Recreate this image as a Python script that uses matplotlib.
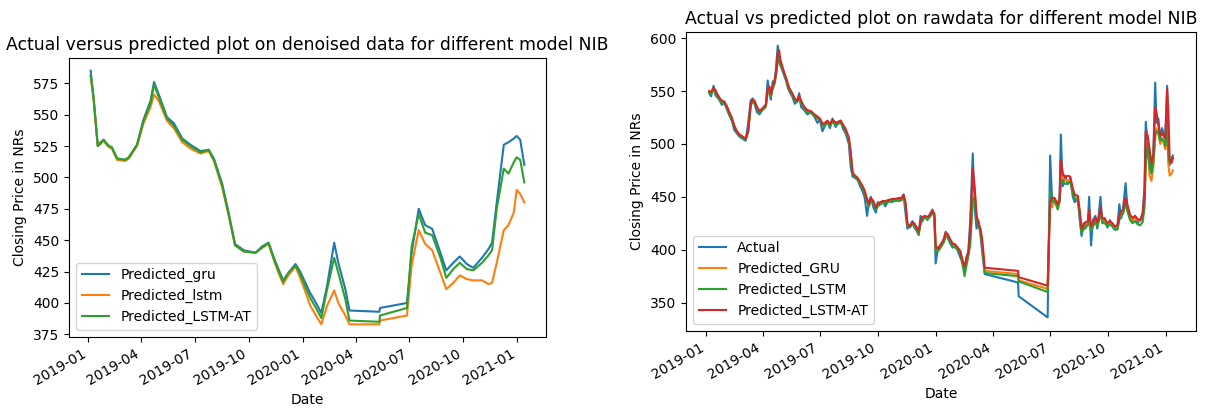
import pandas as pd
import matplotlib
matplotlib.use('Agg')
import matplotlib.pyplot as plt
import matplotlib.dates as mdates

# denoised data (left chart)
den_dates = ['2019-01-05', '2019-01-10', '2019-01-17', '2019-01-22', '2019-01-27', '2019-02-01',
             '2019-02-05', '2019-02-10', '2019-02-19', '2019-03-05', '2019-03-11', '2019-03-25',
             '2019-04-05', '2019-04-17', '2019-04-23', '2019-05-01', '2019-05-15', '2019-05-27',
             '2019-06-10', '2019-06-24', '2019-07-11', '2019-07-25', '2019-08-03', '2019-08-17',
             '2019-08-28', '2019-09-08', '2019-09-23', '2019-10-13', '2019-10-24', '2019-11-04',
             '2019-11-14', '2019-11-21', '2019-11-29', '2019-12-08', '2019-12-20', '2019-12-28',
             '2020-01-05', '2020-01-14', '2020-01-24', '2020-02-02', '2020-02-12', '2020-02-24',
             '2020-03-02', '2020-03-14', '2020-03-21', '2020-05-11', '2020-05-12', '2020-06-27',
             '2020-07-05', '2020-07-17', '2020-07-28', '2020-08-09', '2020-08-23', '2020-09-02',
             '2020-09-14', '2020-09-25', '2020-10-07', '2020-10-18', '2020-11-02', '2020-11-13',
             '2020-11-19', '2020-11-27', '2020-12-09', '2020-12-17', '2020-12-26', '2020-12-31',
             '2021-01-06', '2021-01-13']
den_gru = [585, 563, 526, 528, 530, 527, 525, 524, 515, 514, 516, 526,
           546, 561, 576, 566, 548, 543, 531, 526, 521, 522, 515, 495,
           472, 447, 442, 440, 445, 448, 435, 427, 418, 424, 431, 425,
           417, 408, 400, 392, 414, 448, 432, 411, 394, 393, 396, 400,
           440, 475, 462, 459, 440, 426, 432, 437, 431, 428, 436, 443,
           448, 480, 526, 528, 531, 533, 530, 510]
den_lstm = [581, 562, 525, 527, 529, 526, 524, 523, 514, 513, 515, 525,
            543, 556, 566, 561, 545, 539, 528, 523, 519, 521, 513, 492,
            470, 446, 441, 440, 444, 447, 433, 424, 415, 422, 429, 420,
            410, 398, 390, 383, 398, 410, 400, 390, 383, 383, 386, 390,
            430, 458, 447, 442, 424, 411, 416, 422, 419, 418, 418, 415,
            416, 432, 458, 462, 472, 490, 487, 480]
den_at = [581, 563, 525, 527, 530, 527, 525, 524, 515, 514, 516, 526,
          545, 559, 574, 564, 547, 541, 530, 525, 520, 522, 514, 494,
          471, 446, 441, 440, 444, 448, 434, 426, 417, 424, 430, 423,
          414, 404, 396, 388, 411, 436, 424, 403, 386, 385, 390, 396,
          445, 471, 456, 454, 436, 420, 427, 432, 427, 426, 432, 438,
          442, 475, 507, 503, 512, 516, 514, 496]

# raw data (right chart)
raw_dates = ['2019-01-06', '2019-01-09', '2019-01-13', '2019-01-16', '2019-01-19', '2019-01-22',
             '2019-01-26', '2019-01-30', '2019-02-03', '2019-02-07', '2019-02-11', '2019-02-15',
             '2019-02-19', '2019-02-23', '2019-02-28', '2019-03-05', '2019-03-09', '2019-03-13',
             '2019-03-16', '2019-03-19', '2019-03-23', '2019-03-27', '2019-04-01', '2019-04-06',
             '2019-04-09', '2019-04-12', '2019-04-14', '2019-04-17', '2019-04-20', '2019-04-22',
             '2019-04-25', '2019-04-27', '2019-04-29', '2019-05-02', '2019-05-05', '2019-05-08',
             '2019-05-11', '2019-05-14', '2019-05-18', '2019-05-22', '2019-05-26', '2019-05-29',
             '2019-06-01', '2019-06-06', '2019-06-11', '2019-06-17', '2019-06-22', '2019-06-27',
             '2019-07-01', '2019-07-05', '2019-07-09', '2019-07-13', '2019-07-17', '2019-07-21',
             '2019-07-26', '2019-07-30', '2019-08-03', '2019-08-07', '2019-08-11', '2019-08-16',
             '2019-08-19', '2019-08-22', '2019-08-26', '2019-08-30', '2019-09-03', '2019-09-07',
             '2019-09-10', '2019-09-14', '2019-09-17', '2019-09-20', '2019-09-24', '2019-09-28',
             '2019-10-01', '2019-10-05', '2019-10-09', '2019-10-13', '2019-10-18', '2019-10-24',
             '2019-10-29', '2019-11-04', '2019-11-08', '2019-11-11', '2019-11-14', '2019-11-17',
             '2019-11-21', '2019-11-25', '2019-11-28', '2019-12-02', '2019-12-05', '2019-12-08',
             '2019-12-11', '2019-12-15', '2019-12-19', '2019-12-23', '2019-12-27', '2019-12-30',
             '2020-01-01', '2020-01-04', '2020-01-09', '2020-01-14', '2020-01-17', '2020-01-20',
             '2020-01-24', '2020-01-28', '2020-02-01', '2020-02-05', '2020-02-09', '2020-02-13',
             '2020-02-16', '2020-02-19', '2020-02-22', '2020-02-25', '2020-02-29', '2020-03-03',
             '2020-03-06', '2020-03-09', '2020-03-12', '2020-03-15', '2020-03-19', '2020-05-11',
             '2020-05-12', '2020-06-27', '2020-07-01', '2020-07-04', '2020-07-08', '2020-07-13',
             '2020-07-16', '2020-07-18', '2020-07-21', '2020-07-25', '2020-07-29', '2020-08-02',
             '2020-08-06', '2020-08-09', '2020-08-14', '2020-08-17', '2020-08-20', '2020-08-23',
             '2020-08-26', '2020-08-30', '2020-09-01', '2020-09-04', '2020-09-07', '2020-09-11',
             '2020-09-14', '2020-09-17', '2020-09-19', '2020-09-22', '2020-09-26', '2020-09-30',
             '2020-10-04', '2020-10-08', '2020-10-12', '2020-10-16', '2020-10-19', '2020-10-22',
             '2020-10-25', '2020-10-29', '2020-11-01', '2020-11-05', '2020-11-09', '2020-11-13',
             '2020-11-17', '2020-11-21', '2020-11-25', '2020-11-28', '2020-11-30', '2020-12-03',
             '2020-12-06', '2020-12-09', '2020-12-12', '2020-12-15', '2020-12-17', '2020-12-20',
             '2020-12-23', '2020-12-26', '2020-12-29', '2020-12-31', '2021-01-03', '2021-01-05',
             '2021-01-07', '2021-01-10', '2021-01-12']
raw_actual = [548, 545, 555, 546, 544, 542, 537, 540, 533, 527, 522, 513,
              510, 507, 505, 503, 520, 541, 543, 538, 530, 528, 533, 537,
              560, 548, 542, 559, 560, 570, 593, 578, 575, 570, 565, 560,
              553, 549, 545, 538, 540, 548, 535, 532, 528, 530, 526, 520,
              523, 512, 517, 521, 515, 524, 516, 520, 522, 514, 510, 500,
              478, 469, 468, 466, 460, 455, 450, 432, 446, 450, 440, 435,
              445, 443, 446, 441, 447, 445, 448, 446, 447, 452, 435, 420,
              422, 427, 421, 418, 414, 432, 427, 432, 428, 434, 438, 430,
              387, 399, 403, 410, 417, 412, 406, 402, 405, 399, 393, 388,
              380, 393, 398, 428, 491, 440, 420, 428, 415, 398, 377, 369,
              356, 336, 489, 448, 445, 440, 450, 509, 460, 470, 462, 468,
              450, 445, 448, 428, 413, 425, 420, 427, 450, 404, 428, 432,
              420, 438, 450, 425, 430, 421, 428, 422, 419, 423, 443, 430,
              440, 463, 438, 430, 427, 432, 425, 428, 435, 460, 521, 500,
              485, 475, 490, 558, 520, 524, 505, 515, 508, 505, 555, 485,
              480, 487, 489]
raw_gru = [550, 548, 552, 550, 546, 543, 540, 539, 535, 529, 524, 517,
           512, 509, 507, 505, 512, 537, 541, 540, 534, 531, 533, 536,
           550, 552, 546, 553, 558, 565, 580, 584, 577, 572, 567, 562,
           556, 551, 547, 542, 541, 544, 540, 535, 531, 530, 528, 525,
           524, 518, 519, 521, 518, 522, 519, 520, 521, 517, 513, 505,
           490, 472, 469, 467, 463, 459, 455, 446, 442, 448, 445, 439,
           442, 444, 445, 445, 446, 447, 447, 448, 448, 451, 444, 424,
           422, 425, 424, 420, 416, 425, 430, 431, 430, 432, 436, 433,
           402, 400, 404, 408, 414, 414, 409, 405, 404, 402, 398, 390,
           384, 388, 396, 410, 450, 455, 432, 424, 420, 405, 380, 377,
           371, 363, 450, 440, 447, 440, 446, 470, 468, 466, 465, 466,
           456, 450, 449, 435, 418, 421, 424, 425, 433, 420, 424, 428,
           424, 430, 438, 428, 427, 424, 426, 424, 421, 421, 430, 434,
           436, 446, 440, 432, 428, 430, 428, 427, 430, 445, 485, 505,
           470, 465, 478, 505, 515, 510, 500, 505, 500, 495, 512, 480,
           470, 472, 475]
raw_lstm = [549, 547, 551, 549, 545, 542, 539, 538, 534, 528, 523, 516,
            511, 508, 506, 504, 511, 536, 540, 539, 533, 530, 532, 535,
            549, 551, 545, 552, 557, 564, 578, 582, 575, 571, 566, 561,
            555, 550, 546, 541, 540, 543, 539, 534, 530, 529, 527, 524,
            523, 517, 518, 520, 517, 521, 518, 519, 520, 516, 512, 504,
            489, 471, 468, 466, 462, 458, 454, 445, 441, 447, 444, 438,
            441, 443, 444, 444, 445, 446, 446, 447, 447, 452, 443, 423,
            421, 424, 423, 418, 414, 424, 429, 430, 429, 431, 435, 432,
            398, 398, 402, 407, 413, 412, 407, 403, 402, 400, 396, 385,
            375, 385, 394, 405, 447, 450, 430, 422, 418, 404, 378, 375,
            370, 360, 455, 445, 447, 438, 445, 462, 465, 462, 463, 464,
            454, 448, 447, 433, 416, 419, 422, 423, 431, 418, 422, 426,
            422, 428, 436, 426, 425, 422, 424, 422, 419, 419, 428, 432,
            434, 444, 436, 428, 425, 427, 424, 423, 426, 440, 480, 500,
            478, 472, 482, 510, 512, 510, 503, 505, 503, 498, 515, 490,
            482, 484, 486]
raw_at = [550, 549, 553, 551, 547, 544, 541, 540, 536, 530, 525, 517,
          512, 509, 507, 505, 513, 538, 542, 541, 535, 531, 534, 537,
          552, 554, 547, 555, 560, 567, 585, 589, 580, 574, 568, 563,
          557, 552, 548, 543, 541, 546, 541, 535, 532, 531, 528, 526,
          524, 519, 520, 522, 519, 523, 520, 521, 522, 518, 514, 506,
          492, 473, 470, 468, 464, 460, 456, 448, 443, 449, 446, 440,
          443, 445, 446, 446, 447, 448, 448, 449, 449, 452, 445, 425,
          422, 426, 425, 421, 417, 427, 431, 432, 431, 433, 437, 434,
          404, 401, 405, 410, 416, 415, 410, 406, 405, 402, 399, 389,
          384, 392, 398, 420, 477, 460, 432, 425, 420, 410, 383, 380,
          374, 366, 445, 449, 449, 443, 448, 485, 472, 468, 470, 469,
          458, 452, 451, 437, 420, 423, 426, 427, 438, 422, 426, 430,
          426, 432, 440, 430, 429, 425, 427, 425, 422, 423, 432, 436,
          438, 449, 442, 433, 430, 432, 429, 428, 433, 452, 512, 508,
          495, 482, 490, 534, 530, 518, 508, 510, 507, 505, 552, 530,
          485, 482, 487]

den_dates = pd.to_datetime(den_dates)
raw_dates = pd.to_datetime(raw_dates)

fig = plt.figure(figsize=(12.2, 4.12), dpi=100)

ax1 = fig.add_axes([69 / 1220, 75 / 412, 477 / 1220, 279 / 412])
ax1.plot(den_dates, den_gru, label='Predicted_gru')
ax1.plot(den_dates, den_lstm, label='Predicted_lstm')
ax1.plot(den_dates, den_at, label='Predicted_LSTM-AT')
ax1.set_title('Actual versus predicted plot on denoised data for different model NIB', fontsize=12.4)
ax1.set_xlabel('Date')
ax1.set_ylabel('Closing Price in NRs')
ax1.legend(loc='lower left')

ax2 = fig.add_axes([686 / 1220, 81 / 412, 510 / 1220, 299 / 412])
ax2.plot(raw_dates, raw_actual, label='Actual')
ax2.plot(raw_dates, raw_gru, label='Predicted_GRU')
ax2.plot(raw_dates, raw_lstm, label='Predicted_LSTM')
ax2.plot(raw_dates, raw_at, label='Predicted_LSTM-AT')
ax2.set_title('Actual vs predicted plot on rawdata for different model NIB', fontsize=12.4)
ax2.set_xlabel('Date')
ax2.set_ylabel('Closing Price in NRs')
ax2.legend(loc='lower left')

# tanggal per kuartal, miring seperti autofmt_xdate
for ax in (ax1, ax2):
    ax.xaxis.set_major_locator(mdates.MonthLocator(bymonth=[1, 4, 7, 10]))
    ax.xaxis.set_major_formatter(mdates.DateFormatter('%Y-%m'))
    for lbl in ax.get_xticklabels():
        lbl.set_rotation(30)
        lbl.set_ha('right')

fig.savefig('out.png')
